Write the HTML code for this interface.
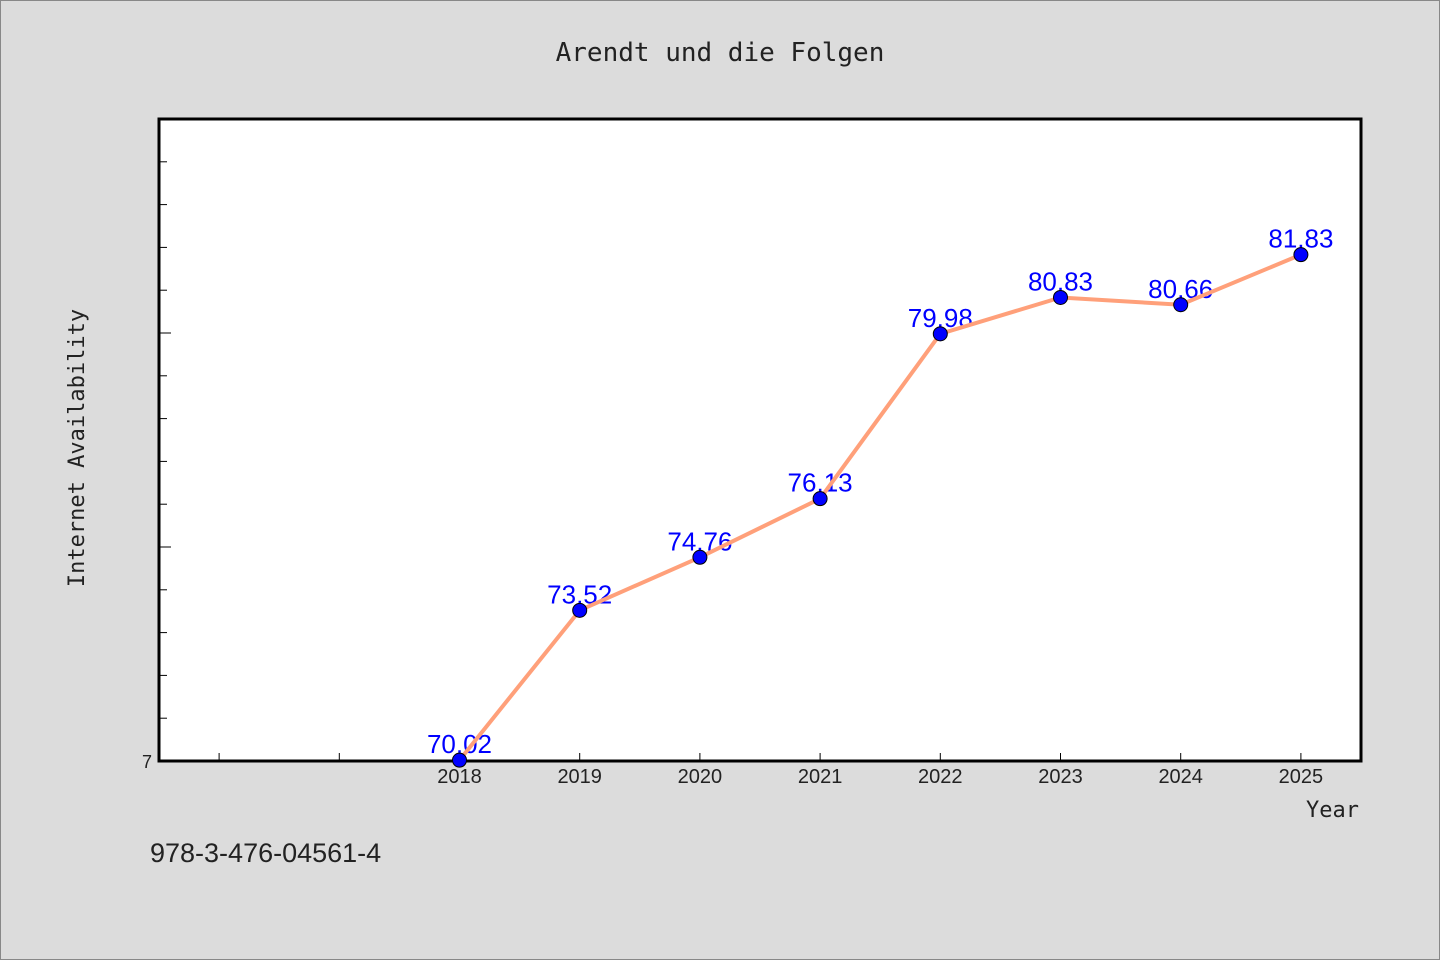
<!DOCTYPE html>
<html><head><meta charset="utf-8"><style>
body{margin:0;background:#dcdcdc;}
svg{display:block;font-family:"Liberation Sans","WenQuanYi Zen Hei",sans-serif;}
</style></head><body>
<svg id="c" width="1440" height="960">
<rect x="0.5" y="0.5" width="1439" height="959" fill="#dcdcdc" stroke="#888"/>
<text x="720" y="61" text-anchor="middle" font-size="26" fill="#222" font-family="'WenQuanYi Zen Hei',monospace">Arendt und die Folgen</text>
<rect x="159" y="119" width="1202" height="642" fill="#fff" stroke="#000" stroke-width="3"/>
<text transform="translate(84,448) rotate(-90)" text-anchor="middle" font-size="22" fill="#222" font-family="'WenQuanYi Zen Hei',monospace">Internet Availability</text>
<text x="1359" y="817" text-anchor="end" font-size="22" fill="#222" font-family="'WenQuanYi Zen Hei',monospace">Year</text>
<text x="150" y="862" font-size="27" fill="#222">978-3-476-04561-4</text>
<text x="152" y="768" text-anchor="end" font-size="18" fill="#222">7</text>
<g id="ticks"></g><g id="labels"></g><g id="line"></g><g id="pts"></g>
</svg>
<script>
const years=[2018,2019,2020,2021,2022,2023,2024,2025];
const values=[70.02,73.52,74.76,76.13,79.98,80.83,80.66,81.83];
const valueLabels=["70,02","73,52","74,76","76,13","79,98","80,83","80,66","81,83"];
const NS="http://www.w3.org/2000/svg";
const x=v=>159+(v-2015.5)*120.2;
const y=v=>761-(v-70)*42.8;
function mk(t,a,p){const e=document.createElementNS(NS,t);for(const k in a)e.setAttribute(k,a[k]);p.appendChild(e);return e;}
const tk=document.getElementById('ticks');
for(let v=71;v<85;v++){const len=v%5===0?12:8;
const t=mk('line',{x1:159,x2:159+len,y1:y(v),y2:y(v),stroke:'#000','stroke-width':1},tk);

}
for(let yr=2016;yr<=2025;yr++){
const t=mk('line',{x1:x(yr),x2:x(yr),y1:761,y2:753,stroke:'#000','stroke-width':1},tk);

}
years.forEach(yr=>{const t=mk('text',{x:x(yr),y:783,'text-anchor':'middle','font-size':20,fill:'#222'},tk);t.textContent=yr;

});
const lb=document.getElementById('labels');
years.forEach((yr,i)=>{const t=mk('text',{x:x(yr),y:y(values[i])-7,'text-anchor':'middle','font-size':26,fill:'#0000ff'},lb);t.textContent=valueLabels[i];

});
const pl=mk('polyline',{points:years.map((yr,i)=>x(yr)+','+y(values[i])).join(' '),fill:'none',stroke:'#ffa07a','stroke-width':4},document.getElementById('line'));


const pg=document.getElementById('pts');
years.forEach((yr,i)=>{const c=mk('circle',{cx:x(yr),cy:y(values[i]),r:7,fill:'#0000ff',stroke:'#000','stroke-width':1},pg);

});
</script>
</body></html>
